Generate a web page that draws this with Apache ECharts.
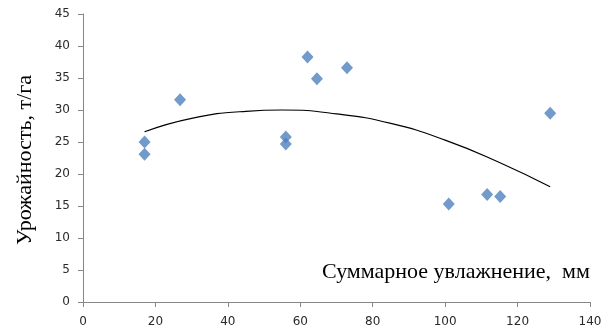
<!DOCTYPE html>
<html>
<head>
<meta charset="utf-8">
<script src="https://cdn.jsdelivr.net/npm/echarts@6/dist/echarts.min.js"></script>
<style>
html,body{margin:0;padding:0;background:#fff;}
#chart{width:605px;height:336px;}
</style>
</head>
<body>
<div id="chart"></div>
<script>
// точки: увлажнение (мм), урожайность (т/га)
var moisture = [17, 17, 26.8, 56, 56, 62, 64.6, 72.9, 101, 111.6, 115.2, 129];
var yieldVals = [25.0, 23.1, 31.6, 25.8, 24.7, 38.3, 34.9, 36.6, 15.3, 16.8, 16.5, 29.5];
// линия тренда
var trendX = [17, 30, 45, 55, 70, 85, 100, 115, 129];
var trendY = [26.6, 28.7, 29.8, 30.0, 29.4, 27.9, 25.3, 21.8, 18.0];
var xTicks = [0, 20, 40, 60, 80, 100, 120, 140];
var yTicks = [0, 5, 10, 15, 20, 25, 30, 35, 40, 45];

var pts = [];
for (var i = 0; i < moisture.length; i++) {
	pts.push([moisture[i], yieldVals[i]]);
}
var trend = [];
for (var i = 0; i < trendX.length; i++) {
	trend.push([trendX[i], trendY[i]]);
}

var myChart = echarts.init(document.getElementById('chart'));
var axisLbl = { color: '#2a2a2a', fontFamily: 'DejaVu Sans', fontSize: 12 };
var option = {
	animation: false,
	grid: { left: 83, right: 15, top: 14, bottom: 34 },
	xAxis: {
		type: 'value',
		min: xTicks[0],
		max: xTicks[xTicks.length - 1],
		interval: 20,
		axisLine: { show: true, lineStyle: { color: '#868686', width: 1 } },
		axisTick: { show: true, length: 5, lineStyle: { color: '#868686' } },
		axisLabel: Object.assign({ margin: 14 }, axisLbl),
		splitLine: { show: false }
	},
	yAxis: {
		type: 'value',
		min: yTicks[0],
		max: yTicks[yTicks.length - 1],
		interval: 5,
		axisLine: { show: true, lineStyle: { color: '#868686', width: 1 } },
		axisTick: { show: true, length: 5, lineStyle: { color: '#868686' } },
		axisLabel: Object.assign({ margin: 13 }, axisLbl),
		splitLine: { show: false }
	},
	graphic: [
		{
			type: 'text',
			left: 322, top: 261,
			style: { text: 'Суммарное увлажнение,  мм', font: '22px "Liberation Serif"', fill: '#000' }
		},
		{
			type: 'text',
			x: 14, y: 245,
			rotation: Math.PI / 2,
			style: { text: 'Урожайность, т/га', font: '22px "Liberation Serif"', fill: '#000' }
		}
	],
	series: [
		{
			type: 'line',
			data: trend,
			smooth: true,
			showSymbol: false,
			lineStyle: { color: '#000', width: 1.2 },
			z: 1
		},
		{
			type: 'scatter',
			data: pts,
			symbol: 'diamond',
			symbolSize: [12, 13],
			itemStyle: { color: '#4F81BD' },
			z: 2
		}
	]
};
myChart.setOption(option);
</script>
</body>
</html>
